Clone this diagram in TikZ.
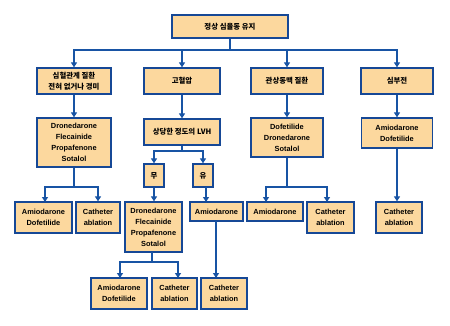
\documentclass[tikz,border=0pt]{standalone}
\usepackage{fontspec}
\setmainfont{Liberation Sans}
\newfontfamily\kr{Noto Sans CJK KR}
\usetikzlibrary{arrows.meta}
\definecolor{boxfill}{RGB}{252,216,158}
\definecolor{boxline}{RGB}{22,72,150}
\definecolor{arrcol}{RGB}{24,84,164}
\tikzset{
  box/.style={draw=boxline, line width=1.3pt, fill=boxfill, inner sep=0pt,
    align=center, font=\fontsize{7.4}{11}\selectfont\bfseries},
  krbox/.style={box, font=\kr\fontsize{7.4}{11}\selectfont\bfseries},
  link/.style={draw=arrcol, line width=1.3pt},
  arr/.style={link, -{Triangle[width=6pt,length=5pt]}}
}
\newcommand{\bx}[7][box]{\node[#1, minimum width=#5pt, minimum height=#6pt] (#2) at (#3,#4) {#7};}
\begin{document}
\begin{tikzpicture}[x=1pt,y=-1pt]
\useasboundingbox (0,0) rectangle (450,326);
% boxes
\bx[krbox]{top}{230}{26.5}{116}{23}{정상 심율동 유지}
\bx[krbox]{A}{74}{81}{74}{26}{심혈관계 질환\\전혀 없거나 경미}
\bx[krbox]{B}{182}{81}{76}{26}{고혈압}
\bx[krbox]{C}{287}{81}{72}{26}{관상동맥 질환}
\bx[krbox]{D}{397}{81}{72}{26}{심부전}
\bx{A2}{74}{142.5}{74}{49}{Dronedarone\\Flecainide\\Propafenone\\Sotalol}
\bx[krbox]{B2}{182}{132}{76}{26}{상당한 정도의 LVH}
\bx[krbox]{mu}{154}{175.5}{20}{23}{무}
\bx[krbox]{yu}{203}{175.5}{20}{23}{유}
\bx{C2}{287}{137.5}{72}{39}{Dofetilide\\Dronedarone\\Sotalol}
\bx{D2}{397}{133}{71}{30}{Amiodarone\\Dofetilide}
\bx{L3a}{43.5}{217.5}{57}{31}{Amiodarone\\Dofetilide}
\bx{L3b}{98}{217.5}{44}{31}{Catheter\\ablation}
\bx{L3c}{153.5}{227}{57}{50}{Dronedarone\\Flecainide\\Propafenone\\Sotalol}
\bx{L3d}{216.5}{211.5}{53}{19}{Amiodarone}
\bx{L3e}{275}{211.5}{56}{19}{Amiodarone}
\bx{L3f}{330.5}{217.5}{47}{31}{Catheter\\ablation}
\bx{L3g}{399}{217.5}{46}{31}{Catheter\\ablation}
\bx{L4a}{119}{293.5}{56}{31}{Amiodarone\\Dofetilide}
\bx{L4b}{174.5}{293.5}{45}{31}{Catheter\\ablation}
\bx{L4c}{224}{293.5}{46}{31}{Catheter\\ablation}
% junctions
\coordinate (j0) at (230,50);
\coordinate (jA) at (74,187);
\coordinate (jB) at (182,151);
\coordinate (jC) at (287,187);
\coordinate (jL) at (152,262);
% connectors
\draw[link] (top.south) -- (j0);
\foreach \t in {A,B,C,D} \draw[arr] (j0) -| (\t.north);
\draw[arr] (A.south) -- (A2.north);
\draw[arr] (B.south) -- (B2.north);
\draw[arr] (C.south) -- (C2.north);
\draw[arr] (D.south) -- (D2.north);
\draw[link] (A2.south) -- (jA);
\draw[arr] (jA) -| (45,202);
\draw[arr] (jA) -| (L3b.north);
\draw[link] (B2.south) -- (jB);
\draw[arr] (jB) -| (mu.north);
\draw[arr] (jB) -| (yu.north);
\draw[arr] (mu.south) -- (mu.south |- L3c.north);
\draw[arr] (206,187) -- (206,202);
\draw[link] (C2.south) -- (jC);
\draw[arr] (jC) -| (266,202);
\draw[arr] (jC) -| (327,202);
\draw[arr] (D2.south) -- (D2.south |- L3g.north);
\draw[link] (152,252) -- (jL);
\draw[arr] (jL) -| (120,278);
\draw[arr] (jL) -| (178,278);
\draw[arr] (216,221) -- (216,278);
\end{tikzpicture}
\end{document}
